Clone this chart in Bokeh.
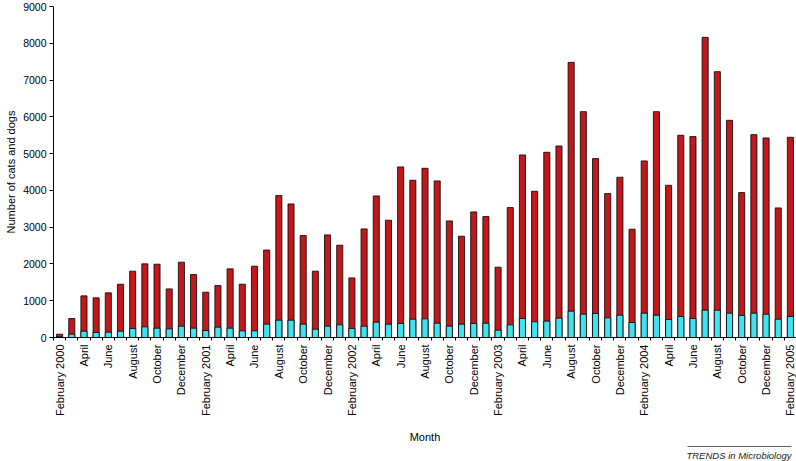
from bokeh.plotting import figure
from bokeh.models import FixedTicker, ColumnDataSource, LinearAxis, Title
from bokeh.embed import file_html
from bokeh.resources import INLINE
import math

# Months Feb 2000 .. Feb 2005
months = [
    "Feb 2000", "Mar 2000", "Apr 2000", "May 2000", "Jun 2000", "Jul 2000", "Aug 2000", "Sep 2000", "Oct 2000", "Nov 2000", "Dec 2000",
    "Jan 2001", "Feb 2001", "Mar 2001", "Apr 2001", "May 2001", "Jun 2001", "Jul 2001", "Aug 2001", "Sep 2001", "Oct 2001", "Nov 2001", "Dec 2001",
    "Jan 2002", "Feb 2002", "Mar 2002", "Apr 2002", "May 2002", "Jun 2002", "Jul 2002", "Aug 2002", "Sep 2002", "Oct 2002", "Nov 2002", "Dec 2002",
    "Jan 2003", "Feb 2003", "Mar 2003", "Apr 2003", "May 2003", "Jun 2003", "Jul 2003", "Aug 2003", "Sep 2003", "Oct 2003", "Nov 2003", "Dec 2003",
    "Jan 2004", "Feb 2004", "Mar 2004", "Apr 2004", "May 2004", "Jun 2004", "Jul 2004", "Aug 2004", "Sep 2004", "Oct 2004", "Nov 2004", "Dec 2004",
    "Jan 2005", "Feb 2005",
]

# Total (top of red bar)
total = [
    90, 516, 1132, 1078, 1214, 1449, 1803, 2002, 1993, 1322, 2047,
    1712, 1232, 1413, 1866, 1449, 1938, 2378, 3859, 3632, 2772, 1803, 2790,
    2509, 1621, 2953, 3850, 3188, 4638, 4275, 4601, 4257, 3170, 2754, 3415,
    3288, 1911, 3533, 4964, 3976, 5036, 5208, 7482, 6141, 4864, 3913, 4357,
    2944, 4801, 6141, 4139, 5498, 5462, 8161, 7228, 5906, 3940, 5516, 5426,
    3524, 5444,
]

# Cyan lower segment
cyan = [
    20, 90, 172, 136, 145, 172, 245, 290, 254, 235, 308,
    254, 190, 281, 254, 181, 181, 362, 471, 471, 362, 226, 308,
    344, 245, 308, 417, 362, 380, 498, 507, 389, 308, 362, 380,
    389, 199, 344, 516, 426, 444, 525, 716, 634, 652, 534, 607,
    408, 661, 607, 489, 571, 516, 743, 743, 661, 598, 661, 634,
    498, 571,
]

tick_labels = [
    "February 2000", "April", "June", "August", "October", "December",
    "February 2001", "April", "June", "August", "October", "December",
    "February 2002", "April", "June", "August", "October", "December",
    "February 2003", "April", "June", "August", "October", "December",
    "February 2004", "April", "June", "August", "October", "December",
    "February 2005",
]

y_ticks = [0, 1000, 2000, 3000, 4000, 5000, 6000, 7000, 8000, 9000]

FONT = "Liberation Sans"
RED = "#c2181b"
CYAN = "#3fe3f0"

xs = list(range(len(months)))
src = ColumnDataSource(dict(x=xs, total=total, cyan=cyan))

p = figure(width=796, height=461, x_range=(-0.5, len(months) - 0.5), y_range=(0, 9000),
           output_backend="svg", toolbar_location=None,
           min_border_left=53, min_border_right=0, min_border_top=6, min_border_bottom=124)

p.vbar(x="x", top="total", bottom=0, width=0.5, source=src, fill_color=RED,
       line_color="black", line_width=0.8)
p.vbar(x="x", top="cyan", bottom=0, width=0.5, source=src, fill_color=CYAN,
       line_color="black", line_width=0.8)

p.outline_line_color = None
p.grid.grid_line_color = None
p.background_fill_color = "white"
p.border_fill_color = "white"

# y axis
ya = p.yaxis[0]
ya.ticker = FixedTicker(ticks=y_ticks, minor_ticks=[])
ya.axis_label = "Number of cats and dogs"
ya.axis_label_text_font = FONT
ya.axis_label_text_font_size = "11px"
ya.axis_label_text_font_style = "normal"
ya.axis_label_text_color = "black"
ya.axis_label_standoff = 3
ya.major_label_text_font = FONT
ya.major_label_text_font_size = "10.5px"
ya.major_label_text_color = "black"
ya.major_tick_in = 0
ya.major_tick_out = 4
ya.minor_tick_out = 0
ya.minor_tick_in = 0
ya.axis_line_color = "black"
ya.major_tick_line_color = "black"
ya.major_label_standoff = 3

# x axis
label_pos = list(range(0, len(months), 2))
boundaries = [i - 0.5 for i in range(len(months) + 1)]
xa = p.xaxis[0]
xa.ticker = FixedTicker(ticks=label_pos, minor_ticks=boundaries)
xa.major_label_overrides = {pos: lab for pos, lab in zip(label_pos, tick_labels)}
xa.major_label_orientation = math.pi / 2
xa.major_label_text_font = FONT
xa.major_label_text_font_size = "11px"
xa.major_label_text_color = "black"
xa.major_label_standoff = 4
xa.major_tick_in = 0
xa.major_tick_out = 0
xa.minor_tick_in = 0
xa.minor_tick_out = 3
xa.minor_tick_line_color = "black"
xa.axis_line_color = "black"
xa.axis_label = "Month"
xa.axis_label_text_font = FONT
xa.axis_label_text_font_size = "11px"
xa.axis_label_text_font_style = "normal"
xa.axis_label_text_color = "black"
xa.axis_label_standoff = 12

# Credit rule (line only axis) and credit text
rule = LinearAxis(bounds=(51.55, 60.1), ticker=FixedTicker(ticks=[], minor_ticks=[]),
                  major_tick_out=0, major_tick_in=0, minor_tick_out=0, minor_tick_in=0,
                  major_label_text_font_size="0px", axis_line_color="#333333",
                  axis_line_width=0.8)
p.add_layout(rule, "below")
p.add_layout(Title(text="TRENDS in Microbiology", align="right", text_font=FONT,
                   text_font_size="9.5px", text_font_style="italic", text_color="#222222",
                   offset=5, standoff=2), "below")

open("out.html", "w").write(file_html(p, INLINE))
